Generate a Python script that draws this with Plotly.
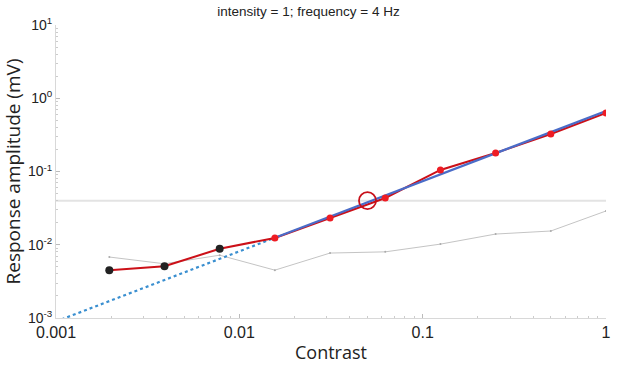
import numpy as np
import plotly.graph_objects as go

# ---- data ----
contrast = [0.001953125, 0.00390625, 0.0078125, 0.015625, 0.03125, 0.0625, 0.125, 0.25, 0.5, 1.0]
response = [0.0045, 0.0051, 0.0088, 0.0124, 0.0232, 0.0435, 0.105, 0.179, 0.325, 0.63]
noise = [0.0068, 0.0055, 0.0072, 0.0045, 0.0077, 0.0080, 0.0102, 0.0140, 0.0154, 0.0289]
below_fit_n = 3  # first three points (black) are excluded from the fit
fit_slope = 0.958
fit_intercept = 0.67  # response at contrast = 1
fit_start = 0.015625
noise_threshold = 0.04
threshold_contrast = 0.05
title_text = "intensity = 1; frequency = 4 Hz"
x_ticks = [0.001, 0.01, 0.1, 1]
x_tick_labels = ["0.001", "0.01", "0.1", "1"]
y_ticks = [0.001, 0.01, 0.1, 1, 10]
y_tick_labels = ["10<sup>-3</sup>", "10<sup>-2</sup>", "10<sup>-1</sup>", "10<sup>0</sup>", "10<sup>1</sup>"]

def fit(c):
    return fit_intercept * np.power(c, fit_slope)

fig = go.Figure()

# noise threshold line
fig.add_trace(go.Scatter(x=[x_ticks[0], x_ticks[-1]], y=[noise_threshold, noise_threshold],
                         mode="lines", line=dict(color="#e3e3e3", width=2), hoverinfo="skip"))
# noise floor
fig.add_trace(go.Scatter(x=contrast, y=noise, mode="lines+markers",
                         line=dict(color="#c4c4c4", width=1),
                         marker=dict(color="#aaaaaa", size=2)))
# extrapolated fit (dotted)
xd = np.array([x_ticks[0], fit_start])
fig.add_trace(go.Scatter(x=xd, y=fit(xd), mode="lines",
                         line=dict(color="#3a8fd0", width=2.2, dash="dot")))
# response line
fig.add_trace(go.Scatter(x=contrast, y=response, mode="lines",
                         line=dict(color="#cc1018", width=2)))
# fit (solid)
xs = np.array([fit_start, x_ticks[-1]])
fig.add_trace(go.Scatter(x=xs, y=fit(xs), mode="lines",
                         line=dict(color="#4a6cc8", width=2.2)))
# markers
fig.add_trace(go.Scatter(x=contrast[:below_fit_n], y=response[:below_fit_n], mode="markers",
                         marker=dict(color="#222222", size=8)))
fig.add_trace(go.Scatter(x=contrast[below_fit_n:], y=response[below_fit_n:], mode="markers",
                         marker=dict(color="#ee1c24", size=7)))
# threshold circle
fig.add_trace(go.Scatter(x=[threshold_contrast], y=[noise_threshold], mode="markers",
                         marker=dict(symbol="circle-open", color="#c8101a", size=17,
                                     line=dict(width=1.8, color="#c8101a"))))

def minor_vals(lo, hi):
    v = []
    for e in range(lo, hi):
        for m in range(2, 10):
            v.append(m * 10.0 ** e)
    return v

fig.update_layout(
    width=617, height=367,
    margin=dict(l=56, r=6, t=25, b=49),
    paper_bgcolor="white", plot_bgcolor="white",
    showlegend=False,
    title=dict(text=title_text, x=0.5, xanchor="center", y=0.982, yanchor="top",
               font=dict(family="Liberation Sans, Arial", size=13.5, color="#222")),
    font=dict(family="Liberation Sans, Arial", color="#222"),
)
fig.update_xaxes(
    type="log", range=[-3, 0], showgrid=False, zeroline=False,
    showline=True, linecolor="#d8d8d8", linewidth=1,
    tickmode="array", tickvals=x_ticks, ticktext=x_tick_labels,
    ticks="inside", ticklen=4, tickcolor="#bbbbbb",
    tickfont=dict(size=16, color="#222"),
    minor=dict(tickmode="array", tickvals=minor_vals(-3, 0), ticks="inside", ticklen=2,
               tickcolor="#cccccc", showgrid=False),
    title=dict(text="Contrast", font=dict(family="Open Sans", size=18, color="#222"), standoff=6),
)
fig.update_yaxes(
    type="log", range=[-3, 1], showgrid=False, zeroline=False,
    showline=True, linecolor="#d8d8d8", linewidth=1,
    tickmode="array", tickvals=y_ticks, ticktext=y_tick_labels,
    ticks="inside", ticklen=4, tickcolor="#bbbbbb",
    tickfont=dict(size=14, color="#222"),
    minor=dict(tickmode="array", tickvals=minor_vals(-3, 1), ticks="inside", ticklen=2,
               tickcolor="#cccccc", showgrid=False),
    title=dict(text="Response amplitude (mV)", font=dict(family="Open Sans", size=19, color="#222"), standoff=4),
)

fig.write_html("out.html", config={"displayModeBar": False},
               post_script="document.body.style.margin='0px';document.body.style.overflow='hidden';")
